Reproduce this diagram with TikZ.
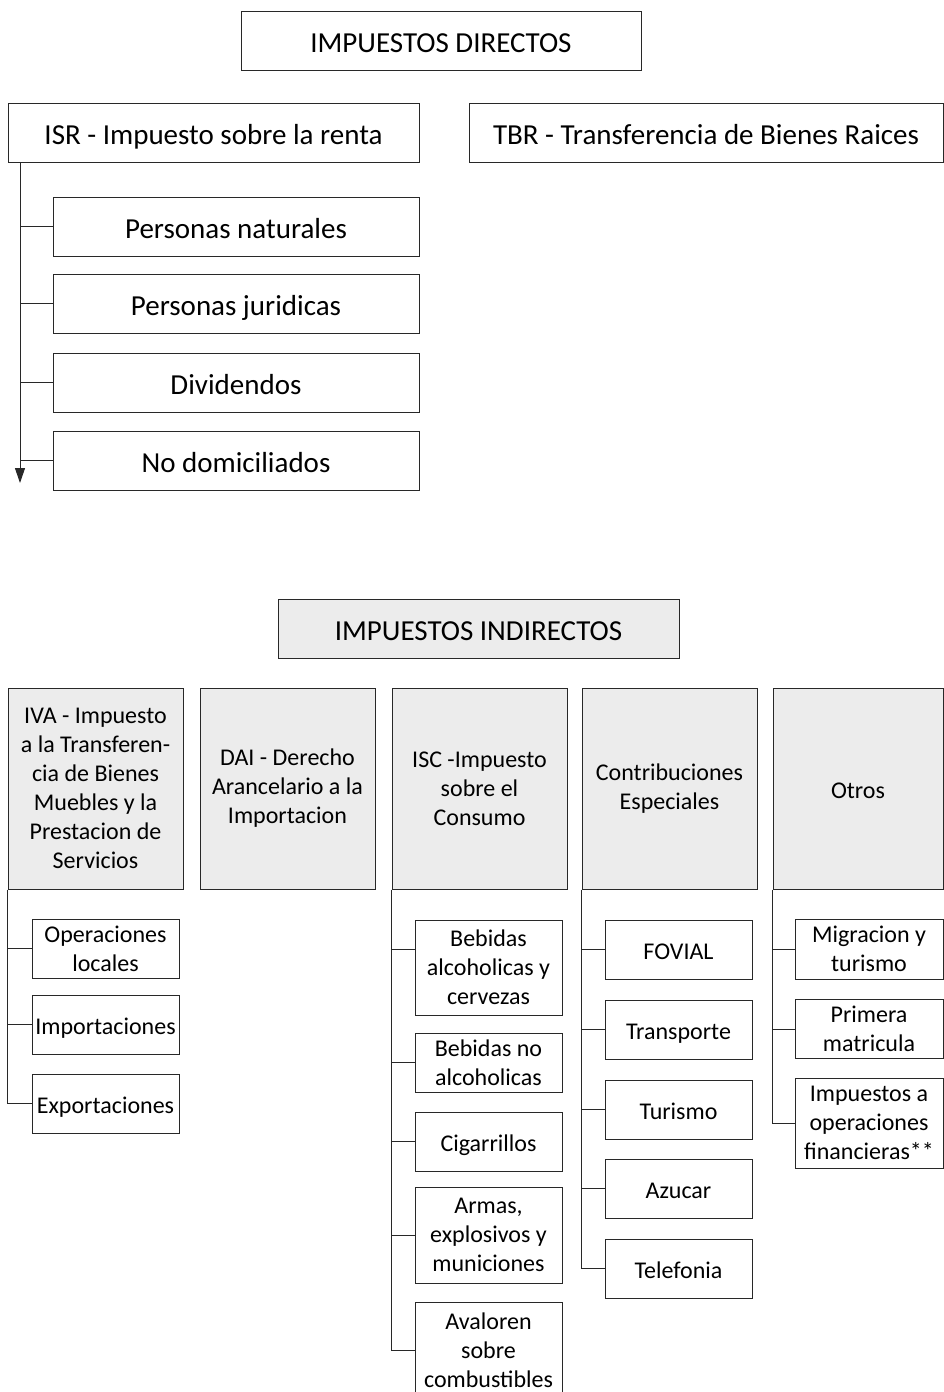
\documentclass[tikz,border=0pt]{standalone}
\usepackage{fontspec}
\setmainfont{Carlito}
\usepackage{xcolor}
\usepackage{tikz}
\usetikzlibrary{arrows.meta, positioning}
\definecolor{HeadGray}{RGB}{236,236,236}
\definecolor{LineGray}{RGB}{40,40,40}

\begin{document}
\begin{tikzpicture}[
    x=1pt, y=-1pt,
    node distance=18pt,
    every node/.style={inner sep=0pt, align=center},
    bigbox/.style={rectangle, draw=LineGray, line width=1pt,
                   minimum height=59pt, text height=23.5pt, text depth=0.5pt,
                   font=\fontsize{29}{34}\selectfont},
    headbox/.style={rectangle, draw=LineGray, line width=1pt, fill=HeadGray,
                    minimum width=175pt, minimum height=201pt,
                    font=\fontsize{24}{29}\selectfont},
    itembox/.style={rectangle, draw=LineGray, line width=1pt,
                    minimum width=147pt, minimum height=59pt,
                    font=\fontsize{24}{29}\selectfont},
    oneline/.style={text height=19.5pt, text depth=0.5pt},
    link/.style={LineGray, line width=1pt},
    arrow/.style={-{Triangle[width=10pt, length=15pt]}, link}
]
\useasboundingbox (0,0) rectangle (944,1392);

% directos
\node[bigbox, minimum width=400pt] (dir) at (441,40.5) {IMPUESTOS DIRECTOS};
\node[bigbox, minimum width=411pt] (isr) at (213.5,132.5) {ISR - Impuesto sobre la renta};
\node[bigbox, minimum width=474pt] (tbr) at (706,132.5) {TBR - Transferencia de Bienes Raices};

\node[bigbox, minimum width=366pt] (natural) at (236,226.5) {Personas naturales};
\node[bigbox, minimum width=366pt, below=17pt of natural] (juridica) {Personas juridicas};
\node[bigbox, minimum width=366pt, below=19pt of juridica] (dividendo) {Dividendos};
\node[bigbox, minimum width=366pt, below=of dividendo] (nodomi) {No domiciliados};

\coordinate (isrtop) at (20,162);
\coordinate (isrend) at (20,483);
\draw[arrow] (isrtop) -- (isrend);
\foreach \n in {natural, juridica, dividendo, nodomi}
    \draw[link] (\n.west) -- (\n.west -| isrtop);

% indirectos
\node[bigbox, minimum width=401pt, fill=HeadGray] (indir) at (478.5,628.5) {IMPUESTOS INDIRECTOS};

\node[headbox] (iva) at (95.5,788.5) {IVA - Impuesto\\a la Transferen-\\cia de Bienes\\Muebles y la\\Prestacion de\\Servicios};
\node[headbox] (dai) at (287.5,788.5) {DAI - Derecho\\Arancelario a la\\Importacion};
\node[headbox] (isc) at (479.5,788.5) {ISC -Impuesto\\sobre el\\Consumo};
\node[headbox] (contrib) at (669.5,788.5) {Contribuciones\\Especiales};
\node[headbox, minimum width=170pt, oneline] (otros) at (858,788.5) {Otros};

% IVA
\node[itembox] (oplocal) at (105.5,948.5) {Operaciones\\locales};
\node[itembox, oneline] (import) at (105.5,1024.5) {Importaciones};
\node[itembox, oneline] (export) at (105.5,1103.5) {Exportaciones};
\draw[link] (iva.south west) |- (export.west);
\foreach \n in {oplocal, import}
    \draw[link] (\n.west) -- (\n.west -| iva.south west);

% ISC
\node[itembox, minimum height=95pt] (alcohol) at (488.5,967.5) {Bebidas\\alcoholicas y\\cervezas};
\node[itembox] (noalcohol) at (488.5,1062.5) {Bebidas no\\alcoholicas};
\node[itembox, oneline] (cigarro) at (488.5,1141.5) {Cigarrillos};
\node[itembox, minimum height=96pt] (armas) at (488.5,1235) {Armas,\\explosivos y\\municiones};
\node[itembox, minimum height=96pt] (avaloren) at (488.5,1350) {Avaloren\\sobre\\combustibles};
\coordinate (alcjoin) at (415,949);
\draw[link] (isc.south west) |- (avaloren.west);
\draw[link] (alcjoin) -- (alcjoin -| isc.south west);
\foreach \n in {noalcohol, cigarro, armas}
    \draw[link] (\n.west) -- (\n.west -| isc.south west);

% contribuciones
\node[itembox, oneline] (fovial) at (678.5,949.5) {FOVIAL};
\node[itembox, oneline, below=20pt of fovial] (transp) {Transporte};
\node[itembox, oneline, below=20pt of transp] (turismo) {Turismo};
\node[itembox, oneline, below=19pt of turismo] (azucar) {Azucar};
\node[itembox, oneline, below=20pt of azucar] (telef) {Telefonia};
\draw[link] (contrib.south west) |- (telef.west);
\foreach \n in {fovial, transp, turismo, azucar}
    \draw[link] (\n.west) -- (\n.west -| contrib.south west);

% otros
\node[itembox, minimum width=148pt, minimum height=60pt] (migra) at (869,949) {Migracion y\\turismo};
\node[itembox, minimum width=148pt] (matricula) at (869,1029) {Primera\\matricula};
\node[itembox, minimum width=148pt, minimum height=90pt] (financ) at (869,1123) {Impuestos a\\operaciones\\financieras**};
\draw[link] (otros.south west) |- (financ.west);
\foreach \n in {migra, matricula}
    \draw[link] (\n.west) -- (\n.west -| otros.south west);

\end{tikzpicture}
\end{document}
